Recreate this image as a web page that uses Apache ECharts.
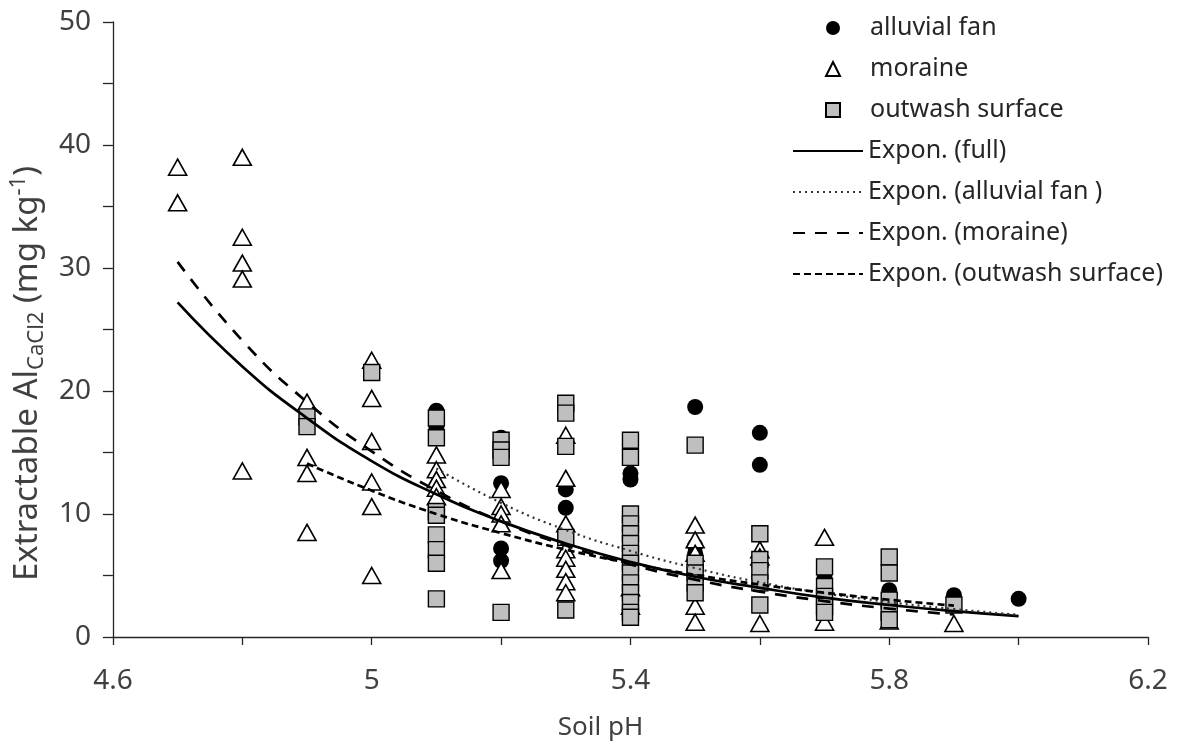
<!DOCTYPE html>
<html><head><meta charset="utf-8">
<script src="https://cdn.jsdelivr.net/npm/echarts@6/dist/echarts.min.js"></script>
<style>html,body{margin:0;padding:0;background:#fff}#c{width:1178px;height:746px}</style>
</head><body><div id="c"></div>
<script>
// ---- data (pH, Al mg/kg) ----
const alluvialFan = [
  [5.1,18.4],[5.1,17.0],
  [5.2,16.2],[5.2,12.5],[5.2,7.2],[5.2,6.2],
  [5.3,12.0],[5.3,10.5],
  [5.4,13.3],[5.4,12.8],
  [5.5,18.7],[5.5,7.4],[5.5,6.8],
  [5.6,16.6],[5.6,14.0],
  [5.7,4.8],[5.7,3.0],
  [5.8,3.8],[5.8,2.5],
  [5.9,3.4],
  [6.0,3.1]
];
const moraine = [
  [4.7,38.2],[4.7,35.3],
  [4.8,39.0],[4.8,32.5],[4.8,30.4],[4.8,29.1],[4.8,13.5],
  [4.9,19.1],[4.9,14.6],[4.9,13.3],[4.9,8.5],
  [5.0,22.5],[5.0,19.4],[5.0,15.9],[5.0,12.6],[5.0,10.6],[5.0,5.0],
  [5.1,14.8],[5.1,13.6],[5.1,12.8],[5.1,12.1],[5.1,11.4],
  [5.2,12.0],[5.2,10.6],[5.2,10.0],[5.2,9.2],[5.2,5.4],
  [5.3,16.4],[5.3,12.9],[5.3,9.2],[5.3,7.1],[5.3,6.4],[5.3,5.5],[5.3,4.5],[5.3,3.6],
  [5.4,4.0],[5.4,2.5],
  [5.5,9.1],[5.5,7.9],[5.5,6.8],[5.5,2.5],[5.5,1.2],
  [5.6,7.1],[5.6,6.5],[5.6,1.1],
  [5.7,8.1],[5.7,1.2],
  [5.8,1.3],
  [5.9,1.1]
];
const outwashSurface = [
  [4.9,17.9],[4.9,17.1],
  [5.0,21.5],
  [5.1,17.8],[5.1,16.2],[5.1,10.2],[5.1,9.9],[5.1,8.3],[5.1,7.1],[5.1,6.0],[5.1,3.1],
  [5.2,16.0],[5.2,15.2],[5.2,14.6],[5.2,2.0],
  [5.3,19.0],[5.3,18.2],[5.3,15.5],[5.3,8.1],[5.3,2.2],
  [5.4,16.0],[5.4,14.6],[5.4,10.0],[5.4,9.2],[5.4,8.4],[5.4,7.6],[5.4,6.8],[5.4,6.0],[5.4,5.2],[5.4,4.4],[5.4,3.6],[5.4,2.8],[5.4,2.0],[5.4,1.6],
  [5.5,15.6],[5.5,6.0],[5.5,5.2],[5.5,4.4],[5.5,3.6],
  [5.6,8.4],[5.6,6.3],[5.6,5.4],[5.6,4.4],[5.6,2.6],
  [5.7,5.7],[5.7,4.1],[5.7,3.3],[5.7,2.5],[5.7,2.0],
  [5.8,6.5],[5.8,5.2],[5.8,3.0],[5.8,2.0],[5.8,1.4],
  [5.9,2.6]
];
// trend lines: values
const trendFull = [[4.7,27.2],[4.8,22.0],[4.9,17.8],[5.0,14.3],[5.1,11.6],[5.2,9.4],[5.3,7.6],[5.4,6.1],[5.5,4.9],[5.6,4.0],[5.7,3.2],[5.8,2.6],[5.9,2.1],[6.0,1.7]];
const trendAlluvial = [[5.1,13.7],[5.2,10.9],[5.3,8.7],[5.4,7.0],[5.5,5.6],[5.6,4.45],[5.7,3.55],[5.8,2.84],[5.9,2.27],[6.0,1.81]];
const trendMoraine = [[4.7,30.5],[4.8,24.1],[4.9,19.1],[5.0,15.1],[5.1,11.9],[5.2,9.4],[5.3,7.45],[5.4,5.9],[5.5,4.66],[5.6,3.69],[5.7,2.92],[5.8,2.31],[5.9,1.83]];
const trendOutwash = [[4.9,14.1],[5.0,11.9],[5.1,10.0],[5.2,8.45],[5.3,7.1],[5.4,6.0],[5.5,5.05],[5.6,4.26],[5.7,3.6],[5.8,3.03],[5.9,2.55]];
const xTickLabels = ['4.6','5','5.4','5.8','6.2'];
const yTickLabels = ['0','10','20','30','40','50'];

const FONT = 'Noto Sans';
const TXT = '#404040';
const chart = echarts.init(document.getElementById('c'), null, {renderer:'canvas'});
const option = {
  backgroundColor:'#fff',
  animation:false,
  textStyle:{fontFamily:FONT},
  grid:{left:112, right:30, top:22, bottom:109, containLabel:false},
  xAxis:{
    type:'value', min:4.6, max:6.2, interval:0.2,
    axisLine:{show:true, onZero:false, lineStyle:{color:'#262626', width:1.3}},
    axisTick:{show:true, length:8, lineStyle:{color:'#262626', width:1.3}},
    splitLine:{show:false},
    axisLabel:{fontSize:28, color:TXT, fontFamily:FONT, margin:30,
      formatter:function(v){const s=String(Number(v.toFixed(1)));return xTickLabels.indexOf(s)>=0?s:'';}},
    name:'Soil pH', nameLocation:'middle', nameGap:78,
    nameTextStyle:{fontSize:26, color:TXT, fontFamily:FONT, padding:[0,60,0,0]}
  },
  yAxis:{
    type:'value', min:0, max:50, interval:5,
    axisLine:{show:true, lineStyle:{color:'#262626', width:1.3}},
    axisTick:{show:true, length:10, lineStyle:{color:'#262626', width:1.3}},
    splitLine:{show:false},
    axisLabel:{fontSize:28, color:TXT, fontFamily:FONT, margin:22,
      formatter:function(v){const s=String(Math.round(v));return yTickLabels.indexOf(s)>=0?s:'';}},
    name:'{a|Extractable Al}{b|CaCl2}{a| (mg kg}{c|-1}{a|)}',
    nameLocation:'middle', nameGap:60, nameRotate:90,
    nameTextStyle:{color:TXT, fontFamily:FONT, padding:[0,88,0,0],
      rich:{
        a:{fontSize:33, color:TXT, fontFamily:FONT},
        b:{fontSize:22, color:TXT, fontFamily:FONT, padding:[18,0,0,0]},
        c:{fontSize:22, color:TXT, fontFamily:FONT, padding:[0,0,18,0]}
      }}
  },
  legend:[
    {orient:'vertical', left:825, top:13, padding:0, itemWidth:14, itemHeight:14, itemGap:11,
     textStyle:{fontSize:25, color:'#262626', fontFamily:FONT, lineHeight:30, padding:[0,0,0,25]},
     data:['alluvial fan','moraine','outwash surface']},
    {orient:'vertical', left:792, top:136, padding:0, itemWidth:70, itemHeight:14, itemGap:11,
     textStyle:{fontSize:25, color:'#262626', fontFamily:FONT, lineHeight:30},
     itemStyle:{opacity:0},
     data:['Expon. (full)','Expon. (alluvial fan )','Expon. (moraine)','Expon. (outwash surface)']}
  ],
  series:[
    {name:'alluvial fan', type:'scatter', data:alluvialFan, symbol:'circle', symbolSize:16,
     itemStyle:{color:'#000', borderColor:'#000', borderWidth:0, opacity:1}},
    {name:'moraine', type:'scatter', data:moraine, symbol:'triangle', symbolSize:[18,16],
     itemStyle:{color:'#fff', borderColor:'#000', borderWidth:1.6, opacity:1}},
    {name:'outwash surface', type:'scatter', data:outwashSurface, symbol:'rect', symbolSize:16,
     itemStyle:{color:'#bfbfbf', borderColor:'#000', borderWidth:1.4, opacity:1}},
    {name:'Expon. (full)', type:'line', data:trendFull, smooth:true, symbol:'none',
     lineStyle:{color:'#000', width:2.7, type:'solid'}, itemStyle:{color:'rgba(0,0,0,0)'}},
    {name:'Expon. (alluvial fan )', type:'line', data:trendAlluvial, smooth:true, symbol:'none',
     lineStyle:{color:'#333', width:2.2, type:[2,4]}, itemStyle:{color:'rgba(0,0,0,0)'}},
    {name:'Expon. (moraine)', type:'line', data:trendMoraine, smooth:true, symbol:'none',
     lineStyle:{color:'#000', width:2.7, type:[12,10]}, itemStyle:{color:'rgba(0,0,0,0)'}},
    {name:'Expon. (outwash surface)', type:'line', data:trendOutwash, smooth:true, symbol:'none',
     lineStyle:{color:'#000', width:2.7, type:[7,4]}, itemStyle:{color:'rgba(0,0,0,0)'}}
  ]
};
chart.setOption(option);
</script>
</body></html>
